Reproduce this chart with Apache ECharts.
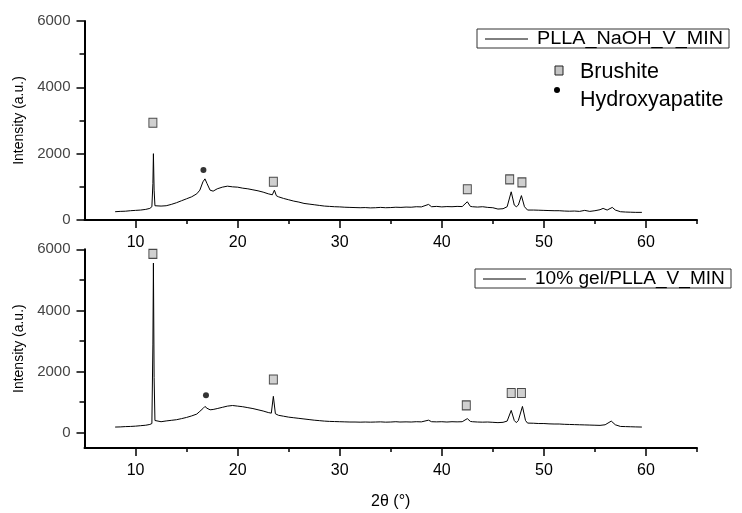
<!DOCTYPE html>
<html>
<head>
<meta charset="utf-8">
<script src="https://cdn.jsdelivr.net/npm/echarts@6/dist/echarts.min.js"></script>
<style>
html,body{margin:0;padding:0;background:#fff;}
#chart{width:742px;height:513px;}
</style>
</head>
<body>
<div id="chart"></div>
<script>
// ---- data ----
const seriesNames = ['PLLA_NaOH_V_MIN', '10% gel/PLLA_V_MIN'];
const phaseNames = ['Brushite', 'Hydroxyapatite'];
const xTickLabels = [10, 20, 30, 40, 50, 60];
const xMinorTicks = [15, 25, 35, 45, 55, 65];
const yTickLabels = [0, 2000, 4000, 6000];
const yMinorTicks = [1000, 3000, 5000];

const topX = [8.0,8.5,9.0,9.5,10.0,10.5,11.0,11.4,11.6,11.7,11.75,11.82,11.9,12.0,12.5,13.0,13.5,14.0,14.5,15.0,15.5,16.0,16.3,16.6,16.8,17.0,17.3,17.6,18.0,18.5,19.0,19.5,20.0,20.5,21.0,21.5,22.0,22.5,23.0,23.4,23.6,23.8,24.0,24.5,25.0,25.5,26.0,26.5,27.0,27.5,28.0,28.5,29.0,29.5,30.0,30.5,31.0,31.5,32.0,32.5,33.0,33.5,34.0,34.5,35.0,35.5,36.0,36.5,37.0,37.5,38.0,38.7,39.0,39.5,40.0,40.5,41.0,41.5,42.0,42.5,42.8,43.0,43.5,44.0,44.5,45.0,45.5,46.0,46.4,46.8,47.1,47.3,47.5,47.8,48.1,48.4,49.0,49.5,50.0,50.5,51.0,51.5,52.0,52.5,53.0,53.5,54.0,54.5,55.0,55.5,55.8,56.2,56.7,57.0,57.5,58.0,58.5,59.0,59.6];
const topY = [250,260,265,280,290,300,320,350,400,1100,2000,900,430,400,420,430,470,520,580,640,700,790,900,1150,1240,1100,900,870,940,990,1020,1000,990,960,940,910,880,840,790,760,900,730,700,650,610,570,540,500,480,460,440,420,410,400,395,385,380,375,370,375,365,370,380,370,375,385,380,390,385,400,395,470,400,410,395,405,400,410,405,550,410,400,390,400,380,370,330,340,400,850,450,400,450,735,400,300,300,295,290,285,280,280,270,265,270,260,290,260,280,310,350,300,380,300,250,240,235,230,230];

const botX = [8.0,8.5,9.0,9.5,10.0,10.5,11.0,11.4,11.6,11.7,11.75,11.82,11.9,12.0,12.5,13.0,13.5,14.0,14.5,15.0,15.5,16.0,16.3,16.6,16.8,17.0,17.3,17.6,18.0,18.5,19.0,19.5,20.0,20.5,21.0,21.5,22.0,22.5,23.0,23.3,23.5,23.7,24.0,24.5,25.0,25.5,26.0,26.5,27.0,27.5,28.0,28.5,29.0,29.5,30.0,30.5,31.0,31.5,32.0,32.5,33.0,33.5,34.0,34.5,35.0,35.5,35.9,36.5,37.0,37.5,38.0,38.7,39.0,39.5,40.0,40.5,41.0,41.5,42.0,42.5,42.8,43.0,43.5,44.0,44.5,45.0,45.5,46.0,46.4,46.8,47.1,47.3,47.5,47.9,48.2,48.4,49.0,49.5,50.0,50.5,51.0,51.5,52.0,52.5,53.0,53.5,54.0,54.5,55.0,55.5,56.0,56.6,57.0,57.5,58.0,58.5,59.0,59.6];
const botY = [185,190,200,205,215,230,245,270,300,2900,5550,1800,400,350,360,385,405,425,460,500,550,610,700,790,860,800,750,760,790,830,870,890,870,850,820,790,750,710,660,640,1190,620,570,540,510,490,470,450,430,410,395,380,370,365,360,355,350,350,345,350,345,350,355,345,350,360,350,355,350,360,355,410,360,355,360,350,360,355,360,460,370,360,350,345,350,340,330,340,380,730,400,330,400,860,400,315,310,300,300,290,285,285,275,270,265,260,255,250,245,240,260,380,260,205,200,195,190,185];

// phase markers: [2theta, intensity]
const topBrushiteX = [11.7, 23.5, 42.5, 46.65, 47.85];
const topBrushiteY = [2930, 1155, 925, 1225, 1135];
const topHapX = [16.65];
const topHapY = [1510];
const botBrushiteX = [11.7, 23.5, 42.4, 46.8, 47.8];
const botBrushiteY = [5850, 1740, 895, 1300, 1300];
const botHapX = [16.9];
const botHapY = [1225];

// ---- chart ----
const FONT = '"Liberation Sans", Arial, sans-serif';
const zip = (xs, ys) => xs.map((x, i) => [x, ys[i]]);
const plain = v => String(v);

function mainX(grid, showName) {
  return {
    type: 'value', gridIndex: grid, min: 5, max: 65, position: 'bottom',
    axisLine: {show: true, onZero: false, lineStyle: {color: '#000', width: 2}},
    axisTick: {show: true, length: 8, customValues: xTickLabels, lineStyle: {color: '#000', width: 1.5}},
    axisLabel: {show: true, customValues: xTickLabels, formatter: plain, margin: 15, color: '#000', fontFamily: FONT, fontSize: 16},
    splitLine: {show: false},
    name: showName ? '2θ (°)' : '',
    nameLocation: 'middle', nameGap: 46,
    nameTextStyle: {color: '#000', fontFamily: FONT, fontSize: 16}
  };
}
function minorX(grid) {
  return {
    type: 'value', gridIndex: grid, min: 5, max: 65, position: 'bottom',
    axisLine: {show: false, onZero: false},
    axisTick: {show: true, length: 4, customValues: xMinorTicks, lineStyle: {color: '#000', width: 1.5}},
    axisLabel: {show: false}, splitLine: {show: false}
  };
}
function mainY(grid, min, gap) {
  return {
    type: 'value', gridIndex: grid, min: min, max: 6000, position: 'left',
    axisLine: {show: true, onZero: false, lineStyle: {color: '#000', width: 2}},
    axisTick: {show: true, length: 8, customValues: yTickLabels, lineStyle: {color: '#000', width: 1.5}},
    axisLabel: {show: true, customValues: yTickLabels, formatter: plain, margin: 14, color: '#444', fontFamily: FONT, fontSize: 15},
    splitLine: {show: false},
    name: 'Intensity (a.u.)', nameLocation: 'middle', nameRotate: 90, nameGap: gap,
    nameTextStyle: {color: '#000', fontFamily: FONT, fontSize: 14}
  };
}
function minorY(grid, min) {
  return {
    type: 'value', gridIndex: grid, min: min, max: 6000, position: 'left',
    axisLine: {show: false, onZero: false},
    axisTick: {show: true, length: 5, customValues: yMinorTicks, lineStyle: {color: '#000', width: 1.5}},
    axisLabel: {show: false}, splitLine: {show: false}
  };
}
const sqStyle = {color: '#c4c4c4', borderColor: '#222', borderWidth: 1};
const dotStyle = {color: '#000'};

const option = {
  animation: false,
  backgroundColor: '#fff',
  grid: [
    {left: 84.5, right: 45, top: 21, height: 199},
    {left: 84.5, right: 45, top: 249.3, height: 198.7}
  ],
  xAxis: [mainX(0, false), mainX(1, true), minorX(0), minorX(1)],
  yAxis: [mainY(0, 0, 58), mainY(1, -500, 50), minorY(0, 0), minorY(1, -500)],
  series: [
    {type: 'line', name: seriesNames[0], xAxisIndex: 0, yAxisIndex: 0, data: zip(topX, topY),
     showSymbol: false, symbol: 'none', lineStyle: {color: '#000', width: 1}},
    {type: 'line', name: seriesNames[1], xAxisIndex: 1, yAxisIndex: 1, data: zip(botX, botY),
     showSymbol: false, symbol: 'none', lineStyle: {color: '#000', width: 1}},
    {type: 'scatter', name: phaseNames[0], xAxisIndex: 0, yAxisIndex: 0, data: zip(topBrushiteX, topBrushiteY),
     symbol: 'rect', symbolSize: [8, 9], itemStyle: sqStyle},
    {type: 'scatter', name: phaseNames[1], xAxisIndex: 0, yAxisIndex: 0, data: zip(topHapX, topHapY),
     symbol: 'circle', symbolSize: 6, itemStyle: dotStyle},
    {type: 'scatter', name: phaseNames[0], xAxisIndex: 1, yAxisIndex: 1, data: zip(botBrushiteX, botBrushiteY),
     symbol: 'rect', symbolSize: [8, 9], itemStyle: sqStyle},
    {type: 'scatter', name: phaseNames[1], xAxisIndex: 1, yAxisIndex: 1, data: zip(botHapX, botHapY),
     symbol: 'circle', symbolSize: 6, itemStyle: dotStyle}
  ],
  graphic: [
    // top legend box
    {type: 'rect', shape: {x: 477, y: 29, width: 252, height: 19}, style: {fill: '#fff', stroke: '#333', lineWidth: 1}, z: 10},
    {type: 'line', shape: {x1: 485, y1: 39, x2: 528, y2: 39}, style: {stroke: '#000', lineWidth: 1}, z: 11},
    {type: 'text', x: 537, y: 39, scaleX: 1.1, style: {text: seriesNames[0], font: '18px ' + FONT, fill: '#000', verticalAlign: 'middle'}, z: 11},
    // phase legend
    {type: 'rect', shape: {x: 555, y: 66, width: 8, height: 9}, style: {fill: '#c4c4c4', stroke: '#222', lineWidth: 1}, z: 11},
    {type: 'text', x: 580, y: 72, style: {text: phaseNames[0], font: '21.5px ' + FONT, fill: '#000', verticalAlign: 'middle'}, z: 11},
    {type: 'circle', shape: {cx: 557, cy: 90, r: 3}, style: {fill: '#000'}, z: 11},
    {type: 'text', x: 580, y: 100, style: {text: phaseNames[1], font: '21.5px ' + FONT, fill: '#000', verticalAlign: 'middle'}, z: 11},
    // bottom legend box
    {type: 'rect', shape: {x: 475, y: 269, width: 256, height: 19}, style: {fill: '#fff', stroke: '#333', lineWidth: 1}, z: 10},
    {type: 'line', shape: {x1: 483, y1: 279, x2: 526, y2: 279}, style: {stroke: '#000', lineWidth: 1}, z: 11},
    {type: 'text', x: 535, y: 279, scaleX: 1.06, style: {text: seriesNames[1], font: '18px ' + FONT, fill: '#000', verticalAlign: 'middle'}, z: 11}
  ]
};

const chart = echarts.init(document.getElementById('chart'), null, {renderer: 'canvas'});
chart.setOption(option);
</script>
</body>
</html>
